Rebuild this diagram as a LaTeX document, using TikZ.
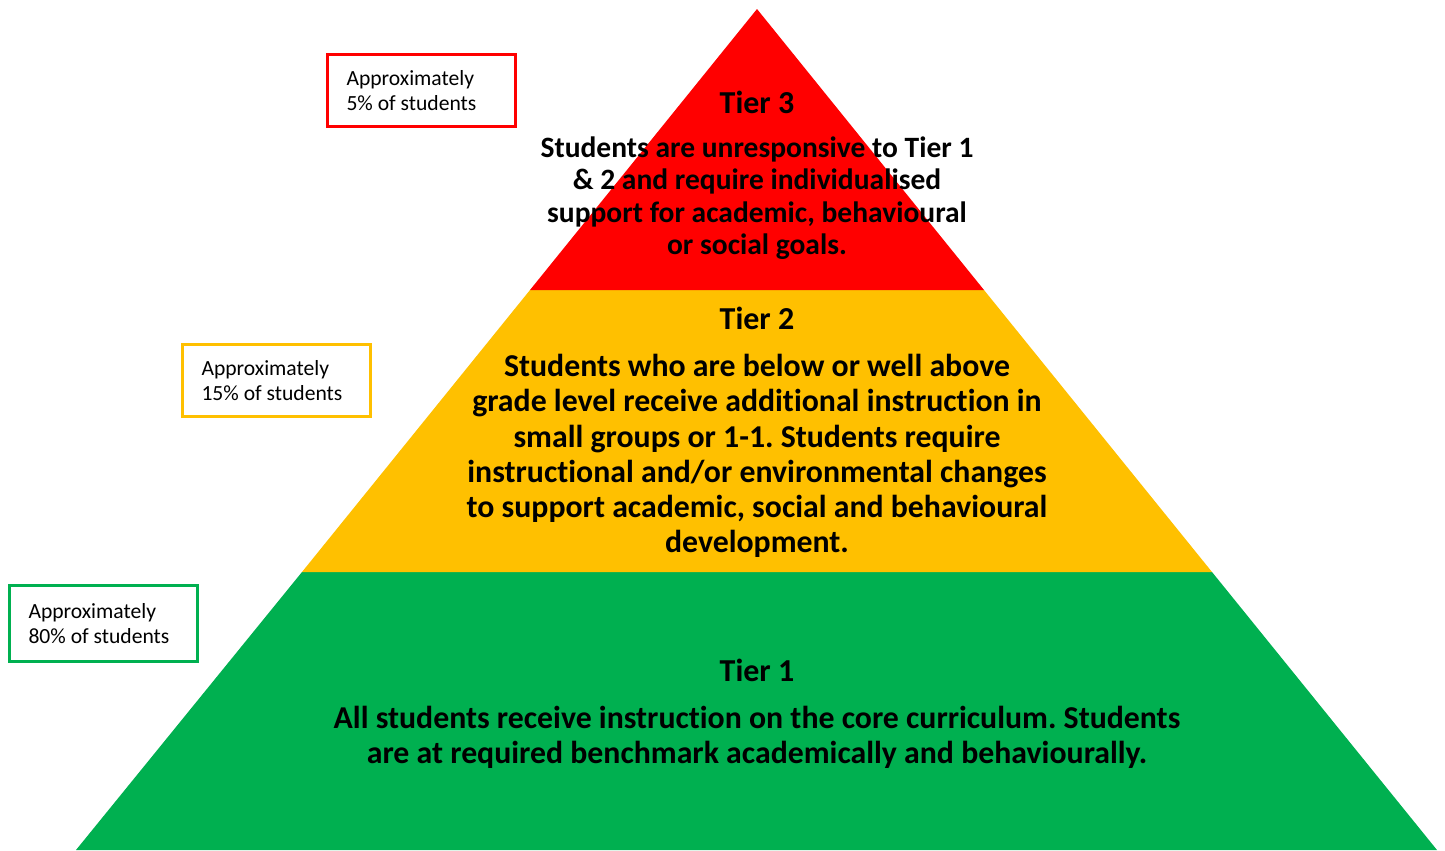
\documentclass[tikz,border=0pt]{standalone}
\usepackage{fontspec}
\setmainfont{Carlito}[Ligatures=NoCommon]
\frenchspacing
\definecolor{tierRed}{HTML}{FF0000}
\definecolor{tierYellow}{HTML}{FFC000}
\definecolor{tierGreen}{HTML}{00B050}
\begin{document}
\begin{tikzpicture}
        [x=0.02cm, y=-0.02cm,
        head/.style={font=\fontsize{18.2}{20}\selectfont\bfseries},
        body/.style={align=center, font=\fontsize{18.1}{20.05}\selectfont\bfseries},
        bodySmall/.style={align=center, font=\fontsize{16.8}{18.4}\selectfont\bfseries},
        box/.style={draw, line width=1.7pt, fill=white, minimum width=3.76cm, minimum height=1.44cm,
            inner xsep=0.38cm, text width=3.0cm, align=flush left, font=\fontsize{12.3}{14.2}\selectfont}]
        \useasboundingbox (0,0) rectangle (1445,850);

        % the three layers of the pyramid
        \fill[tierGreen] (302,572) -- (1212,572) -- (1437,850) -- (76,850) -- cycle;
        \fill[tierYellow] (530,290) -- (984,290) -- (1212,572) -- (302,572) -- cycle;
        \fill[tierRed] (757,9) -- (984,290) -- (530,290) -- cycle;

        % tier 3
        \node[head] (T3) at (757,102) {Tier 3};
        \node[bodySmall] (T3text) at (757,198) {Students are unresponsive to Tier 1\\
            \& 2 and require individualised\\
            support for academic, behavioural\\
            or social goals.};

        % tier 2
        \node[head] (T2) at (757,318) {Tier 2};
        \node[body] (T2text) at (757,456) {Students who are below or well above\\
            grade level receive additional instruction in\\
            small groups or 1-1. Students require\\
            instructional and/or environmental changes\\
            to support academic, social and behavioural\\
            development.};

        % tier 1
        \node[head] (T1) at (757,670) {Tier 1};
        \node[body] (T1text) at (757,737) {All students receive instruction on the core curriculum. Students\\
            are at required benchmark academically and behaviourally.};

        % share of students per tier
        \node[box, draw=tierRed] (P3) at (421.5,90.5) {Approximately\\5\% of students};
        \node[box, draw=tierYellow] (P2) at (276.5,380.5) {Approximately\\15\% of students};
        \node[box, draw=tierGreen, minimum height=1.52cm] (P1) at (103.5,623.5) {Approximately\\80\% of students};
\end{tikzpicture}
\end{document}
